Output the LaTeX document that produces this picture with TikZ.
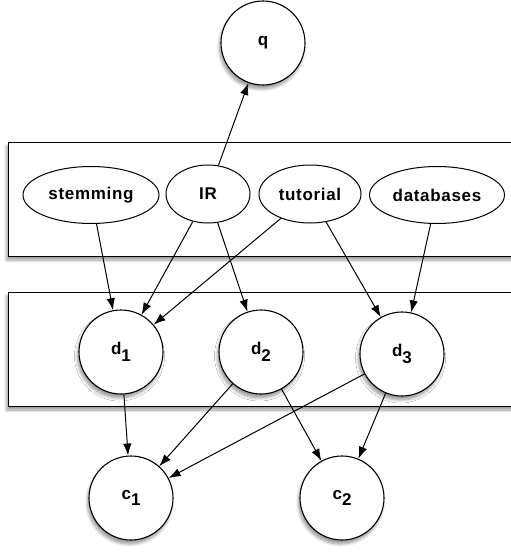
\documentclass[tikz,border=0pt]{standalone}
\usepackage{fontspec}
\setmainfont{Liberation Sans}[LetterSpace=4]
\usetikzlibrary{arrows.meta,shadows.blur,shapes.geometric}
\tikzset{
  shad/.style={blur shadow={shadow xshift=-1.5pt,shadow yshift=-4pt,shadow blur radius=3pt,shadow blur steps=6,shadow opacity=40}},
  plate/.style={draw,line width=1pt,fill=white,shad},
  circ/.style={circle,draw,line width=1.1pt,fill=white,minimum size=84pt,inner sep=0pt,shad,font=\fontsize{17}{20}\selectfont\bfseries},
  ell/.style={ellipse,draw,line width=1pt,fill=white,inner sep=0pt,font=\fontsize{17}{20}\selectfont\bfseries},
  edge/.style={line width=1pt,-{Latex[length=12pt,width=8.5pt]}}
}
\newcommand{\sbs}[2]{#1\raisebox{-0.4em}{#2}}
\begin{document}
\begin{tikzpicture}[x=1pt,y=-1pt]
\useasboundingbox (0,0) rectangle (511,552);
\begin{scope}
\clip (0,0) rectangle (511,552);
\draw[plate] (8,142) rectangle (530,256);
\draw[plate] (8,292) rectangle (530,406);
\end{scope}
\node[circ] (q) at (263,43) {q};
\node[ell,minimum width=136pt,minimum height=57pt] (stem) at (91,195) {stemming};
\node[ell,minimum width=84pt,minimum height=58pt] (ir) at (208,194) {IR};
\node[ell,minimum width=102pt,minimum height=58pt] (tut) at (310,194) {tutorial};
\node[ell,minimum width=135pt,minimum height=57pt] (db) at (437,195) {databases};
\node[circ] (d1) at (121,352) {\sbs{d}{1}};
\node[circ] (d2) at (261,352) {\sbs{d}{2}};
\node[circ] (d3) at (402,354) {\sbs{d}{3}};
\node[circ] (c1) at (131,498) {\sbs{c}{1}};
\node[circ] (c2) at (342,498) {\sbs{c}{2}};
\draw[edge] (ir) -- (q);
\draw[edge] (stem) -- (d1);
\draw[edge] (ir) -- (d1);
\draw[edge] (tut) -- (d1);
\draw[edge] (ir) -- (d2);
\draw[edge] (tut) -- (d3);
\draw[edge] (db) -- (d3);
\draw[edge] (d1) -- (c1);
\draw[edge] (d2) -- (c1);
\draw[edge] (d3) -- (c1);
\draw[edge] (d2) -- (c2);
\draw[edge] (d3) -- (c2);
\end{tikzpicture}
\end{document}
